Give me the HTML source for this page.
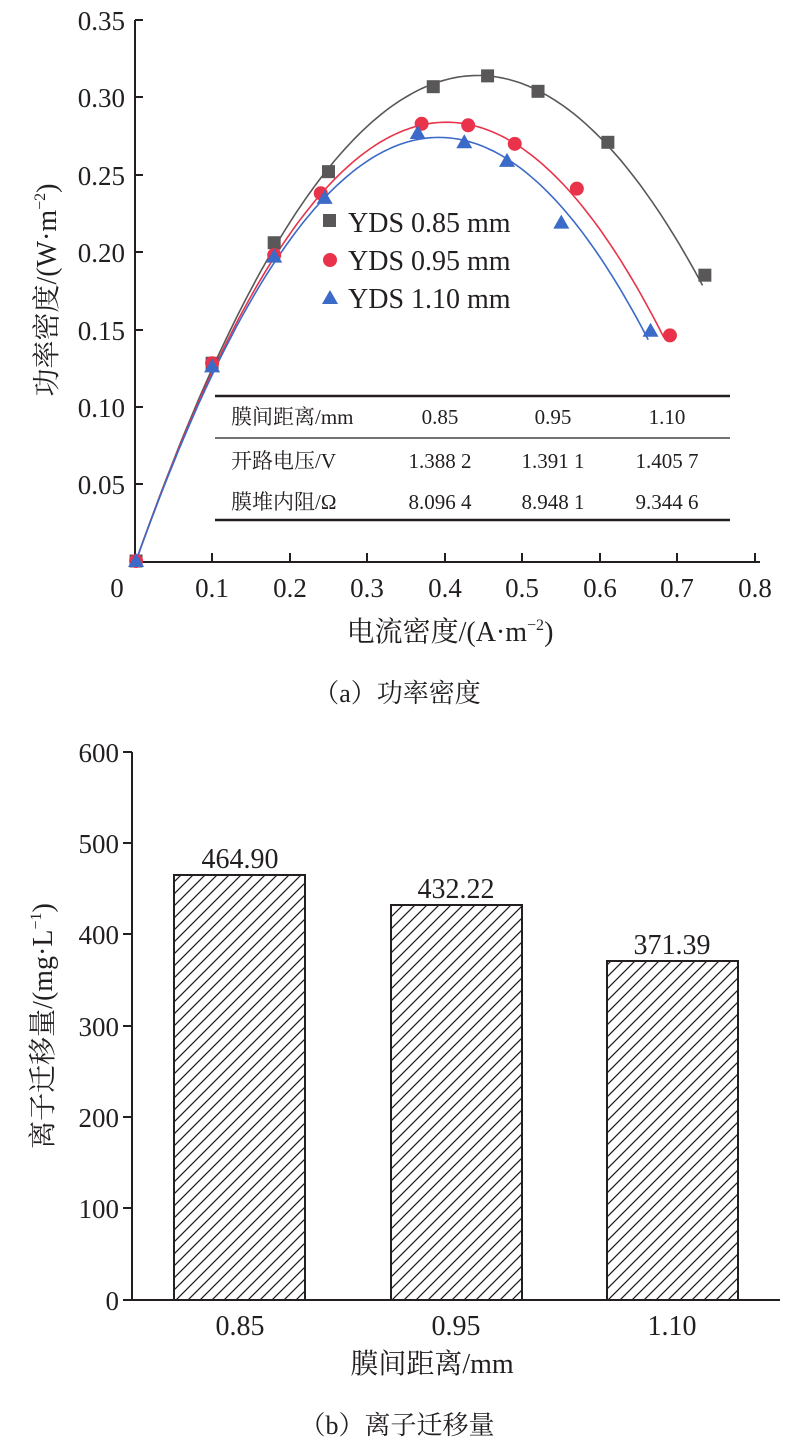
<!DOCTYPE html>
<html><head><meta charset="utf-8"><style>
body{margin:0;background:#fff}
svg{display:block}
text{font-family:"Liberation Serif","Noto Serif CJK SC",serif;fill:#231f20}
</style></head><body>
<svg width="794" height="1442" viewBox="0 0 794 1442" xmlns="http://www.w3.org/2000/svg">
<defs>
<pattern id="h" patternUnits="userSpaceOnUse" width="12" height="12">
<path d="M-3,3 L3,-3 M0,12 L12,0 M9,15 L15,9" stroke="#231f20" stroke-width="1.3"/>
</pattern>
</defs>
<g stroke="#231f20" stroke-width="2" fill="none">
<path d="M135,20 V562 H760"/>
<path d="M135,97 h8 M135,175 h8 M135,252 h8 M135,330 h8 M135,407 h8 M135,484 h8 M135,20 h8"/>
<path d="M212,562 v-9 M290,562 v-9 M367,562 v-9 M445,562 v-9 M522,562 v-9 M600,562 v-9 M677,562 v-9 M755,562 v-9"/>
</g>
<g font-size="27" text-anchor="end">
<text x="125" y="30">0.35</text><text x="125" y="107">0.30</text><text x="125" y="185">0.25</text>
<text x="125" y="262">0.20</text><text x="125" y="340">0.15</text><text x="125" y="417">0.10</text><text x="125" y="494">0.05</text>
</g>
<g font-size="27" text-anchor="middle">
<text x="117" y="597">0</text><text x="212" y="597">0.1</text><text x="290" y="597">0.2</text><text x="367" y="597">0.3</text>
<text x="445" y="597">0.4</text><text x="522" y="597">0.5</text><text x="600" y="597">0.6</text><text x="677" y="597">0.7</text><text x="755" y="597">0.8</text>
</g>
<text x="450" y="641" font-size="28" text-anchor="middle">电流密度/(A·m<tspan font-size="16" dy="-11">−2</tspan><tspan dy="11">)</tspan></text>
<text transform="translate(56,290) rotate(-90)" font-size="28" text-anchor="middle">功率密度/(W·m<tspan font-size="16" dy="-11">−2</tspan><tspan dy="11">)</tspan></text>
<text x="397" y="702" font-size="26" text-anchor="middle">（a）功率密度</text>
<g id="curves" fill="none" stroke-width="1.6"></g>
<g id="marks"></g>
<rect x="323" y="214" width="13" height="13" fill="#595757"/>
<text x="348" y="232" font-size="28">YDS 0.85 mm</text>
<circle cx="330" cy="260" r="7" fill="#e8334a"/>
<text x="348" y="270" font-size="28">YDS 0.95 mm</text>
<path d="M322,304 L330,290 L338,304Z" fill="#3b6ac8"/>
<text x="348" y="308" font-size="28">YDS 1.10 mm</text>
<g stroke="#231f20" fill="none">
<path d="M215,396 H730" stroke-width="2.5"/>
<path d="M215,438 H730" stroke-width="1.2"/>
<path d="M215,520 H730" stroke-width="2.5"/>
</g>
<g font-size="21">
<text x="231" y="424">膜间距离/mm</text>
<text x="231" y="468">开路电压/V</text>
<text x="231" y="509">膜堆内阻/Ω</text>
</g>
<g font-size="21" text-anchor="middle">
<text x="440" y="424">0.85</text><text x="553" y="424">0.95</text><text x="667" y="424">1.10</text>
<text x="440" y="468">1.388 2</text><text x="553" y="468">1.391 1</text><text x="667" y="468">1.405 7</text>
<text x="440" y="509">8.096 4</text><text x="553" y="509">8.948 1</text><text x="667" y="509">9.344 6</text>
</g>

<g stroke="#231f20" stroke-width="2" fill="none">
<path d="M132,752 V1300 H780"/>
<path d="M132,752 h-9 M132,843 h-9 M132,934 h-9 M132,1026 h-9 M132,1117 h-9 M132,1208 h-9 M132,1300 h-9"/>
</g>
<g font-size="27" text-anchor="end">
<text x="119" y="762">600</text><text x="119" y="853">500</text><text x="119" y="944">400</text>
<text x="119" y="1036">300</text><text x="119" y="1127">200</text><text x="119" y="1218">100</text><text x="119" y="1310">0</text>
</g>
<g stroke="#231f20" stroke-width="2" fill="url(#h)">
<rect x="174" y="875" width="131" height="425"/>
<rect x="391" y="905" width="131" height="395"/>
<rect x="607" y="961" width="131" height="339"/>
</g>
<g font-size="28" text-anchor="middle">
<text x="240" y="868">464.90</text><text x="456" y="898">432.22</text><text x="672" y="954">371.39</text>
<text x="240" y="1335">0.85</text><text x="456" y="1335">0.95</text><text x="672" y="1335">1.10</text>
</g>
<text x="432" y="1373" font-size="28" text-anchor="middle">膜间距离/mm</text>
<text transform="translate(52,1026) rotate(-90)" font-size="28" text-anchor="middle">离子迁移量/(mg·L<tspan font-size="16" dy="-11">−1</tspan><tspan dy="11">)</tspan></text>
<text x="397" y="1434" font-size="26" text-anchor="middle">（b）离子迁移量</text>
</svg>
<script>
var px=x=>134.5+x*776, py=y=>561-y*1545;
var series=[
 {c:"#595757",a:1.427,b:1.62,e:0.735,m:"s",p:[[0.002,0],[0.1,0.128],[0.18,0.206],[0.25,0.252],[0.385,0.307],[0.455,0.314],[0.52,0.304],[0.61,0.271],[0.735,0.185]]},
 {c:"#e8334a",a:1.42,b:1.775,e:0.685,m:"c",p:[[0.002,0],[0.1,0.128],[0.18,0.198],[0.24,0.238],[0.37,0.283],[0.43,0.282],[0.49,0.270],[0.57,0.241],[0.69,0.146]]},
 {c:"#3b6ac8",a:1.405,b:1.80,e:0.665,m:"t",p:[[0.002,0],[0.1,0.126],[0.18,0.197],[0.245,0.235],[0.365,0.277],[0.425,0.271],[0.48,0.259],[0.55,0.219],[0.665,0.149]]}];
var ns="http://www.w3.org/2000/svg",cg=document.getElementById("curves"),mg=document.getElementById("marks");
series.forEach(s=>{var d="";for(var x=0.002;x<=s.e+1e-9;x+=0.005){var t=x-0.002,y=s.a*t-s.b*t*t;d+=(d?"L":"M")+px(x).toFixed(1)+","+py(y).toFixed(1);}
var p=document.createElementNS(ns,"path");p.setAttribute("d",d);p.setAttribute("stroke",s.c);cg.appendChild(p);
s.p.forEach(q=>{var X=px(q[0]),Y=py(q[1]),e;
if(s.m=="s"){e=document.createElementNS(ns,"rect");e.setAttribute("x",X-6.5);e.setAttribute("y",Y-6.5);e.setAttribute("width",13);e.setAttribute("height",13);}
else if(s.m=="c"){e=document.createElementNS(ns,"circle");e.setAttribute("cx",X);e.setAttribute("cy",Y);e.setAttribute("r",7);}
else{e=document.createElementNS(ns,"path");e.setAttribute("d","M"+(X-8)+","+(Y+6)+"L"+X+","+(Y-8)+"L"+(X+8)+","+(Y+6)+"Z");}
e.setAttribute("fill",s.c);mg.appendChild(e);});});
</script>
</body></html>
